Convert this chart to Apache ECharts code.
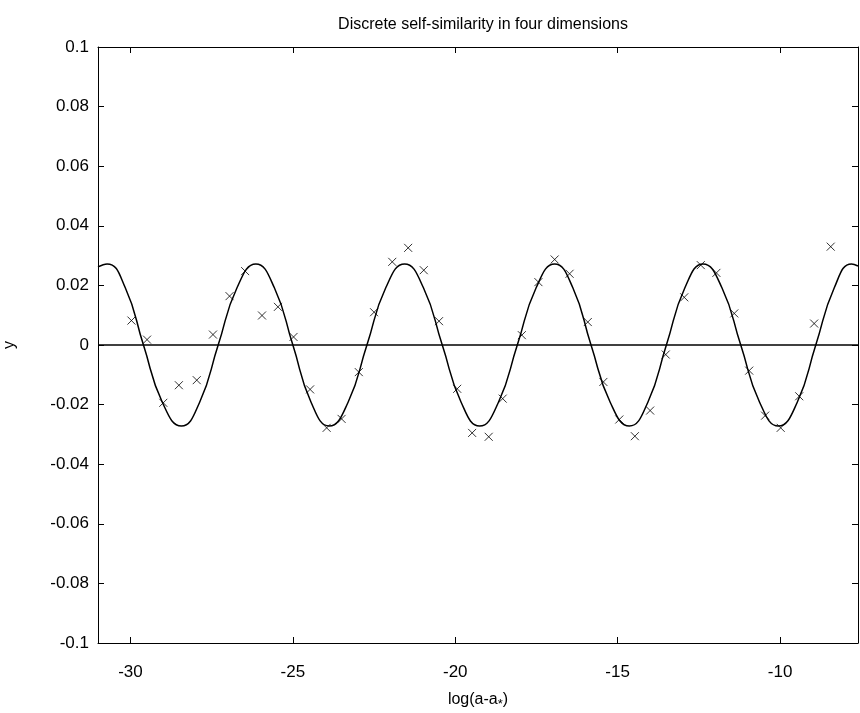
<!DOCTYPE html>
<html>
<head>
<meta charset="utf-8">
<script src="https://cdn.jsdelivr.net/npm/echarts@6/dist/echarts.min.js"></script>
<style>
  html, body { margin: 0; padding: 0; background: #fff; }
  #chart { width: 860px; height: 713px; }
</style>
</head>
<body>
<div id="chart"></div>
<script>
// fitted curve at peaks, zero crossings and half-way points
const curveX = [-31.00, -30.72, -30.16, -29.60, -29.02, -28.43, -27.87, -27.30, -26.72, -26.14,
  -25.57, -25.00, -24.44, -23.88, -23.30, -22.72, -22.14, -21.56, -20.98, -20.40,
  -19.82, -19.25, -18.67, -18.09, -17.51, -16.94, -16.38, -15.82, -15.23, -14.64,
  -14.07, -13.50, -12.93, -12.37, -11.79, -11.21, -10.63, -10.05, -9.47, -8.90,
  -8.33, -7.80, -7.60];
const curveY = [0.0262, 0.0272, 0.0192, 0, -0.0192, -0.0272, -0.0192, 0, 0.0192, 0.0272,
  0.0192, 0, -0.0192, -0.0272, -0.0192, 0, 0.0192, 0.0272, 0.0192, 0,
  -0.0192, -0.0272, -0.0192, 0, 0.0192, 0.0272, 0.0192, 0, -0.0192, -0.0272,
  -0.0192, 0, 0.0192, 0.0272, 0.0192, 0, -0.0192, -0.0272, -0.0192, 0,
  0.0192, 0.0272, 0.0265];

// measured points (x markers)
const markX = [-29.97, -29.49, -28.99, -28.51, -27.96, -27.46, -26.95, -26.47, -25.95, -25.46,
  -24.98, -24.47, -23.96, -23.50, -22.97, -22.50, -21.94, -21.45, -20.97, -20.50,
  -19.94, -19.48, -18.97, -18.54, -17.95, -17.44, -16.94, -16.48, -15.92, -15.44,
  -14.95, -14.47, -14.00, -13.52, -12.95, -12.44, -11.96, -11.41, -10.95, -10.46,
  -9.98, -9.41, -8.95, -8.44];
const markY = [0.0082, 0.0018, -0.0194, -0.0135, -0.0118, 0.0035, 0.0164, 0.0248, 0.0099, 0.0128,
  0.0027, -0.0149, -0.0278, -0.0248, -0.0091, 0.0110, 0.0279, 0.0326, 0.0251, 0.0080,
  -0.0147, -0.0295, -0.0308, -0.0180, 0.0033, 0.0211, 0.0287, 0.0239, 0.0077, -0.0124,
  -0.0250, -0.0306, -0.0220, -0.0032, 0.0160, 0.0268, 0.0242, 0.0106, -0.0086, -0.0237,
  -0.0278, -0.0172, 0.0072, 0.0330];

const xTicks = [-30, -25, -20, -15, -10];
const xMin = -31;
const xMax = -7.6;

const font = 'Liberation Sans';
const chart = echarts.init(document.getElementById('chart'));

const axisLine = { show: true, onZero: false, lineStyle: { color: '#000', width: 1 } };
const tickIn = { show: true, inside: true, length: 6, lineStyle: { color: '#000' } };

const option = {
  animation: false,
  backgroundColor: '#fff',
  title: {
    text: 'Discrete self-similarity in four dimensions',
    left: 478,
    textAlign: 'center',
    top: 12,
    textStyle: { fontFamily: font, fontSize: 16, fontWeight: 'normal', color: '#000' }
  },
  grid: { left: 98, right: 2, top: 47, bottom: 70, outerBoundsMode: 'none' },
  xAxis: [{
    type: 'value',
    min: xMin,
    max: xMax,
    name: 'log(a-a{s|*})',
    nameLocation: 'middle',
    nameGap: 45,
    nameTextStyle: {
      fontFamily: font, fontSize: 16, color: '#000',
      rich: { s: { fontFamily: font, fontSize: 13, verticalAlign: 'bottom', padding: [10, 0, 0, 0] } }
    },
    axisLine: axisLine,
    axisTick: Object.assign({}, tickIn, { customValues: xTicks }),
    axisLabel: { customValues: xTicks, margin: 21, fontFamily: font, fontSize: 17, color: '#000' },
    splitLine: { show: false }
  }, {
    type: 'value',
    position: 'top',
    min: xMin,
    max: xMax,
    axisLine: axisLine,
    axisTick: Object.assign({}, tickIn, { customValues: xTicks }),
    axisLabel: { show: false },
    splitLine: { show: false }
  }],
  yAxis: [{
    type: 'value',
    min: -0.1,
    max: 0.1,
    interval: 0.02,
    name: 'y',
    nameLocation: 'middle',
    nameRotate: 90,
    nameGap: 80,
    nameTextStyle: { fontFamily: font, fontSize: 16, color: '#000' },
    axisLine: axisLine,
    axisTick: tickIn,
    axisLabel: {
      margin: 9, fontFamily: font, fontSize: 17, color: '#000',
      formatter: function (v) { return String(Math.round(v * 100) / 100); }
    },
    splitLine: { show: false }
  }, {
    type: 'value',
    position: 'right',
    min: -0.1,
    max: 0.1,
    interval: 0.02,
    axisLine: axisLine,
    axisTick: tickIn,
    axisLabel: { show: false },
    splitLine: { show: false }
  }],
  series: [{
    name: 'fit',
    type: 'line',
    data: curveX.map((x, i) => [x, curveY[i]]),
    smooth: 0.5,
    showSymbol: false,
    lineStyle: { color: '#000', width: 1.5 },
    markLine: {
      silent: true,
      symbol: 'none',
      label: { show: false },
      lineStyle: { color: '#000', type: 'solid', width: 1.5 },
      data: [{ yAxis: 0 }]
    },
    z: 2
  }, {
    name: 'data',
    type: 'scatter',
    data: markX.map((x, i) => [x, markY[i]]),
    symbol: 'path://M0,0L10,10M10,0L0,10',
    symbolSize: 8,
    itemStyle: { color: 'none', borderColor: '#000', borderWidth: 1 },
    z: 3
  }]
};

chart.setOption(option);
</script>
</body>
</html>
